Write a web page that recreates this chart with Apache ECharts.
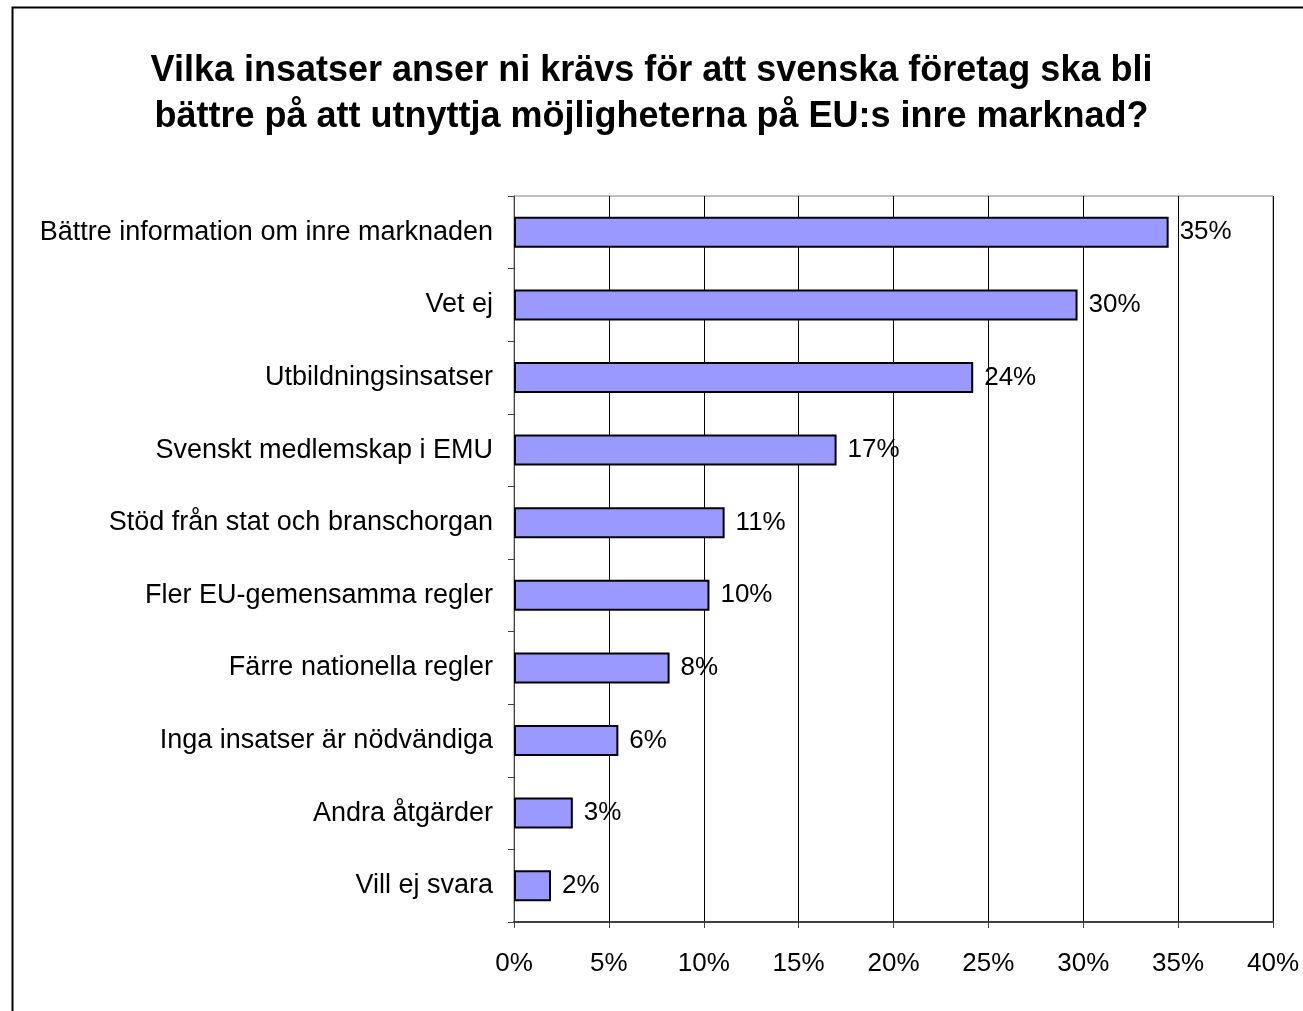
<!DOCTYPE html>
<html>
<head>
<meta charset="utf-8">
<script src="https://cdn.jsdelivr.net/npm/echarts@6/dist/echarts.min.js"></script>
<style>
  html, body { margin: 0; padding: 0; background: #fff; }
  #chart { width: 1303px; height: 1011px; }
</style>
</head>
<body>
<div id="chart"></div>
<script>
const titleText = 'Vilka insatser anser ni krävs för att svenska företag ska bli\nbättre på att utnyttja möjligheterna på EU:s inre marknad?'
const categories = [
  'Bättre information om inre marknaden',
  'Vet ej',
  'Utbildningsinsatser',
  'Svenskt medlemskap i EMU',
  'Stöd från stat och branschorgan',
  'Fler EU-gemensamma regler',
  'Färre nationella regler',
  'Inga insatser är nödvändiga',
  'Andra åtgärder',
  'Vill ej svara'
]
const shares = [34.5, 29.7, 24.2, 17.0, 11.1, 10.3, 8.2, 5.5, 3.1, 1.95]
const shareLabels = ['35%', '30%', '24%', '17%', '11%', '10%', '8%', '6%', '3%', '2%']

const font = 'Arial, "Liberation Sans", sans-serif'
const chart = echarts.init(document.getElementById('chart'))

chart.setOption({
  animation: false,
  backgroundColor: '#fff',
  graphic: [
    {
      type: 'rect',
      shape: { x: 12.5, y: 7.5, width: 1400, height: 1100 },
      style: { fill: 'none', stroke: '#000', lineWidth: 2 },
      silent: true
    }
  ],
  title: {
    text: titleText,
    left: 'center',
    top: 43,
    textStyle: {
      fontFamily: font,
      fontSize: 36,
      fontWeight: 'bold',
      color: '#000',
      lineHeight: 46
    }
  },
  grid: {
    left: 514,
    right: 30,
    top: 196,
    bottom: 89,
    show: true,
    borderColor: '#808080',
    borderWidth: 1
  },
  xAxis: {
    type: 'value',
    min: 0,
    max: 40,
    interval: 5,
    axisLine: { show: true, lineStyle: { color: '#404040', width: 2 } },
    axisTick: { show: true, length: 6, lineStyle: { color: '#404040' } },
    axisLabel: {
      formatter: '{value}%',
      fontFamily: font,
      fontSize: 26,
      color: '#000',
      margin: 29
    },
    splitLine: { show: true, lineStyle: { color: '#000', width: 1 } }
  },
  yAxis: {
    type: 'category',
    inverse: true,
    data: categories,
    axisLine: { show: true, lineStyle: { color: '#404040', width: 1 } },
    axisTick: { show: true, length: 6, lineStyle: { color: '#404040' } },
    axisLabel: {
      fontFamily: font,
      fontSize: 27,
      color: '#000',
      margin: 21
    },
    splitLine: { show: false }
  },
  series: [
    {
      type: 'bar',
      data: shares,
      barWidth: 31,
      itemStyle: { color: '#9999FF', borderColor: '#000', borderWidth: 2 },
      label: {
        show: true,
        position: 'right',
        distance: 11,
        fontFamily: font,
        fontSize: 26,
        color: '#000',
        formatter: (p) => shareLabels[p.dataIndex]
      }
    }
  ]
})
</script>
</body>
</html>
